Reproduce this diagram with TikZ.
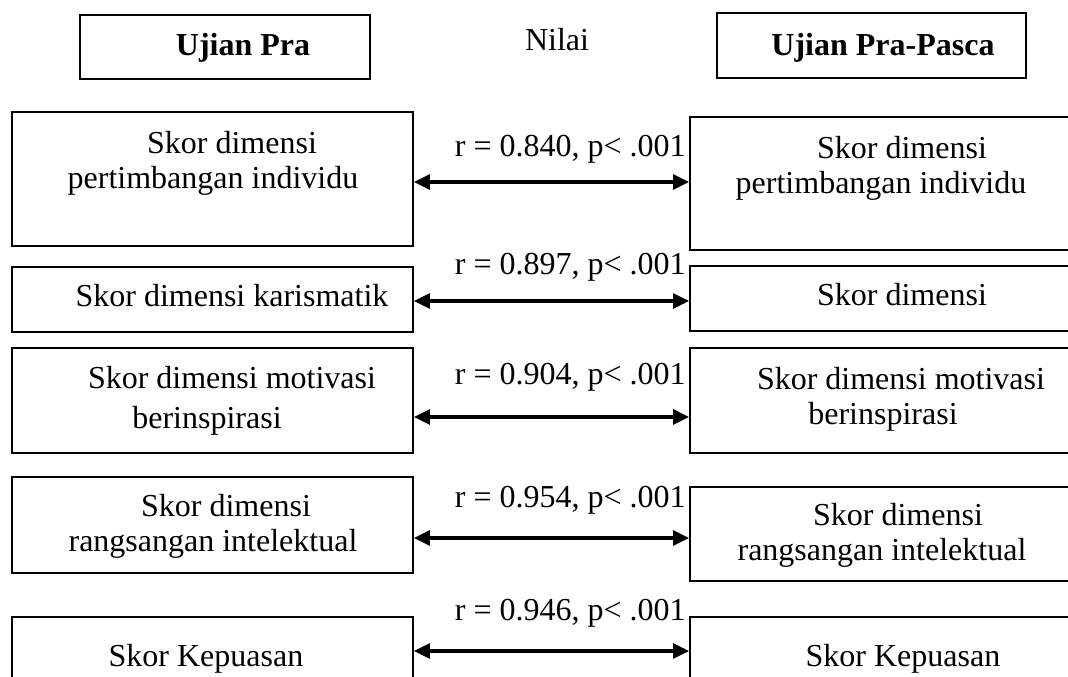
\documentclass[tikz,border=0pt]{standalone}
\usepackage{fontspec}
\setmainfont{Liberation Serif}
\usetikzlibrary{arrows.meta,fit}
\begin{document}
\begin{tikzpicture}[x=0.75pt,y=-0.75pt,
  box/.style={draw=black,line width=1.2pt,inner sep=0pt},
  txt/.style={anchor=base,inner sep=0pt,font=\fontsize{24}{29}\selectfont},
  hdr/.style={anchor=base,inner sep=0pt,font=\fontsize{24}{29}\selectfont\bfseries},
  lab/.style={anchor=base east,inner sep=0pt,font=\fontsize{24}{29}\selectfont},
  link/.style={line width=2.6pt,{Triangle[length=12pt,width=11pt]}-{Triangle[length=12pt,width=11pt]}}]
\useasboundingbox (0,0) rectangle (1068,677);

% column headers
\node[box,fit={(80,15)(370,79)}] (hpra) {};
\node[box,fit={(717,13)(1026,78)}] (hpasca) {};
\node[hdr] (thpra) at (243,56) {Ujian Pra};
\node[txt] (nilai) at (557,51) {Nilai};
\node[hdr] (thpasca) at (883,56) {Ujian Pra-Pasca};

% left column (pre-test)
\node[box,fit={(12,112)(413,246)}] (L1) {};
\node[box,fit={(12,267)(413,332)}] (L2) {};
\node[box,fit={(12,348)(413,453)}] (L3) {};
\node[box,fit={(12,477)(413,573)}] (L4) {};
\node[box,fit={(12,617)(413,690)}] (L5) {};

% right column (post-test), running off the right edge
\node[box,fit={(690,117)(1085,250)}] (R1) {};
\node[box,fit={(690,266)(1085,331)}] (R2) {};
\node[box,fit={(690,348)(1085,453)}] (R3) {};
\node[box,fit={(690,487)(1085,581)}] (R4) {};
\node[box,fit={(690,617)(1085,690)}] (R5) {};

% box texts
\node[txt] (l1a) at (232,154) {Skor dimensi};
\node[txt] (l1b) at (213,189) {pertimbangan individu};
\node[txt] (l2a) at (232,307) {Skor dimensi karismatik};
\node[txt] (l3a) at (232,388) {Skor dimensi motivasi};
\node[txt] (l3b) at (207,428) {berinspirasi};
\node[txt] (l4a) at (226,516) {Skor dimensi};
\node[txt] (l4b) at (213,551) {rangsangan intelektual};
\node[txt] (l5a) at (206,666) {Skor Kepuasan};

\node[txt] (r1a) at (902,159) {Skor dimensi};
\node[txt] (r1b) at (881,194) {pertimbangan individu};
\node[txt] (r2a) at (902,306) {Skor dimensi};
\node[txt] (r3a) at (901,389) {Skor dimensi motivasi};
\node[txt] (r3b) at (883,425) {berinspirasi};
\node[txt] (r4a) at (898,525) {Skor dimensi};
\node[txt] (r4b) at (882,560) {rangsangan intelektual};
\node[txt] (r5a) at (903,666) {Skor Kepuasan};

% correlation values
\node[lab] (c1) at (686,157) {r = 0.840, p< .001};
\node[lab] (c2) at (686,275) {r = 0.897, p< .001};
\node[lab] (c3) at (686,385) {r = 0.904, p< .001};
\node[lab] (c4) at (686,507) {r = 0.954, p< .001};
\node[lab] (c5) at (686,620) {r = 0.946, p< .001};

% two-way links
\draw[link] (L1.east |- 0,182) -- (R1.west |- 0,182);
\draw[link] (L2.east |- 0,301) -- (R2.west |- 0,301);
\draw[link] (L3.east |- 0,417) -- (R3.west |- 0,417);
\draw[link] (L4.east |- 0,538) -- (R4.west |- 0,538);
\draw[link] (L5.east |- 0,651) -- (R5.west |- 0,651);
\end{tikzpicture}
\end{document}
